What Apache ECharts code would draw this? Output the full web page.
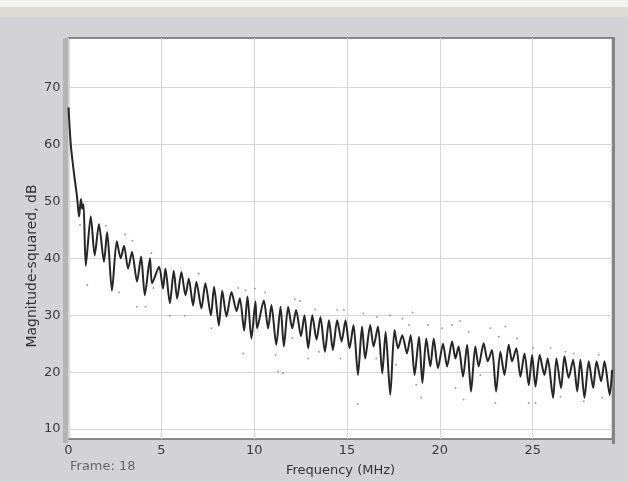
<!DOCTYPE html>
<html>
<head>
<meta charset="utf-8">
<script src="https://cdn.jsdelivr.net/npm/echarts@6/dist/echarts.min.js"></script>
<style>
html,body{margin:0;padding:0;background:#d3d3d5;}
#chart{width:628px;height:482px;}
</style>
</head>
<body>
<div id="chart"></div>
<script>
// Spectrum trace (MHz, dB): alternating peaks and nulls
var freq = [0.00,0.13,0.30,0.46,0.57,0.67,0.74,0.81,0.93,1.20,1.41,1.64,1.91,2.08,2.34,2.60,2.81,2.99,3.21,3.42,3.69,3.91,4.11,4.39,4.50,4.88,5.09,5.22,5.46,5.67,5.85,6.08,6.30,6.48,6.71,6.89,7.16,7.37,7.67,7.84,8.10,8.28,8.51,8.78,9.05,9.23,9.46,9.64,9.85,10.07,10.16,10.52,10.75,10.93,11.19,11.42,11.60,11.83,12.05,12.26,12.52,12.71,12.91,13.13,13.36,13.57,13.81,14.03,14.24,14.47,14.71,14.92,15.14,15.35,15.59,15.81,15.98,16.25,16.43,16.67,16.90,17.08,17.33,17.56,17.75,17.98,18.23,18.43,18.64,18.88,19.06,19.27,19.49,19.67,19.90,20.17,20.39,20.66,20.84,21.01,21.25,21.47,21.68,21.91,22.09,22.36,22.58,22.81,23.03,23.26,23.48,23.71,23.89,24.12,24.34,24.56,24.79,24.97,25.15,25.38,25.63,25.81,26.10,26.28,26.53,26.71,26.94,27.18,27.40,27.57,27.79,28.02,28.26,28.44,28.69,28.87,29.15,29.28];
var mag = [66.5,59.7,54.8,50.8,47.3,50.4,48.7,49.5,38.7,47.4,40.5,46.0,39.4,44.6,34.3,43.0,40.0,42.2,38.2,41.1,35.9,40.3,33.5,40.0,35.6,38.5,34.7,38.2,32.1,37.8,32.9,37.6,33.5,36.4,31.7,35.9,31.2,35.6,30.0,35.0,28.2,34.3,29.8,34.1,30.7,33.0,27.3,33.3,25.9,32.4,27.7,32.6,27.7,31.8,24.8,31.5,24.5,31.5,27.7,30.9,26.3,30.0,24.2,30.0,25.7,29.7,23.6,29.1,23.9,29.1,25.4,29.1,24.2,28.3,19.5,28.0,22.4,28.3,24.5,28.0,19.8,27.1,16.0,27.4,24.2,26.5,23.3,26.5,19.5,26.2,18.1,25.9,21.0,25.9,20.7,25.0,21.0,25.4,22.4,24.5,19.2,24.8,16.6,24.5,21.0,25.1,21.9,23.9,16.6,23.6,19.5,24.8,21.9,24.2,19.2,23.3,17.7,23.0,17.5,23.0,19.5,22.4,15.5,22.4,17.2,22.8,19.0,22.2,16.6,22.2,15.5,21.9,17.2,21.9,18.4,21.9,16.0,20.4];

// Scattered gray dots (MHz, dB)
var dotFreq = [0.62,1.01,2.01,3.05,3.44,2.72,3.68,4.16,4.46,4.57,7.02,5.46,6.26,7.70,9.14,9.53,10.04,9.41,11.15,11.29,11.55,12.19,12.05,12.91,13.49,14.47,14.84,14.65,15.89,16.61,17.98,15.59,16.58,17.65,18.73,19.00,19.36,18.34,20.12,20.66,21.55,22.72,23.17,24.16,21.28,22.99,20.84,24.79,25.15,22.18,25.02,25.96,26.77,27.21,28.56,26.50,27.75,28.74,12.48,10.59,13.29,17.33,18.52,21.10,23.53];
var dotMag = [45.9,35.3,45.7,44.2,43.1,34.0,31.5,31.5,40.9,34.8,37.3,29.9,29.9,27.7,34.8,34.4,34.7,23.3,23.0,20.1,19.8,32.8,26.0,22.4,23.6,30.9,30.9,22.4,30.3,29.7,29.4,14.4,22.4,21.3,17.8,15.5,28.3,28.3,27.7,28.3,27.1,27.7,26.2,25.9,15.2,14.6,17.2,14.6,14.6,19.5,24.3,24.2,23.6,23.3,23.0,15.7,14.9,15.5,32.5,34.0,31.0,30.0,30.5,29.0,28.0];

var xTicks = [0,5,10,15,20,25];
var yTicks = [10,20,30,40,50,60,70];

var traceData = freq.map(function(f,i){return [f, mag[i]];});
var dotData = dotFreq.map(function(f,i){return [f, dotMag[i]];});

var chart = echarts.init(document.getElementById('chart'), null, {renderer:'canvas'});
var FF = 'DejaVu Sans, Verdana, sans-serif';
var tickFont = {color:'#3a3a3a', fontSize:13, fontFamily:FF};
chart.setOption({
  backgroundColor:'#d3d3d5',
  animation:false,
  grid:{left:68.5, right:15.5, top:38, bottom:39, show:true, backgroundColor:'#ffffff', borderColor:'#6a6a6a', borderWidth:1.5},
  xAxis:{
    type:'value', min:0, max:29.3,
    name:'Frequency (MHz)', nameLocation:'middle', nameGap:25,
    nameTextStyle:{color:'#333', fontSize:13, fontFamily:FF},
    axisLine:{show:false}, axisTick:{show:false, customValues:xTicks},
    axisLabel:Object.assign({customValues:xTicks, margin:5}, tickFont),
    splitLine:{show:true, lineStyle:{color:'#d6d6d6', width:1}}
  },
  yAxis:{
    type:'value', min:8.26, max:78.7,
    axisLine:{show:false}, axisTick:{show:false, customValues:yTicks},
    axisLabel:Object.assign({customValues:yTicks, margin:8}, tickFont),
    splitLine:{show:true, lineStyle:{color:'#d6d6d6', width:1}}
  },
  series:[
    {type:'scatter', data:dotData, symbolSize:2, itemStyle:{color:'#8c8c8c'}, z:2, silent:true},
    {type:'line', data:traceData, showSymbol:false, smooth:0.25, lineStyle:{color:'#262626', width:2}, z:3, silent:true}
  ],
  graphic:[
    {type:'rect', shape:{x:0,y:0,width:628,height:7}, style:{fill:'#f2f2ee'}, z:-10},
    {type:'rect', shape:{x:0,y:7,width:628,height:10}, style:{fill:'#dcdcd4'}, z:-10},
    {type:'rect', shape:{x:63,y:38,width:5,height:405}, style:{fill:'#b4b4b4'}},
    {type:'rect', shape:{x:612,y:37,width:3,height:407}, style:{fill:'#858585'}},
    {type:'text', x:32, y:266, rotation:Math.PI/2, style:{text:'Magnitude-squared, dB', fill:'#333', font:'14px DejaVu Sans, Verdana, sans-serif', align:'center', verticalAlign:'middle'}},
    {type:'text', left:70, top:460, style:{text:'Frame: 18', fill:'#666', font:'13px DejaVu Sans, Verdana, sans-serif'}}
  ]
});
</script>
</body>
</html>
